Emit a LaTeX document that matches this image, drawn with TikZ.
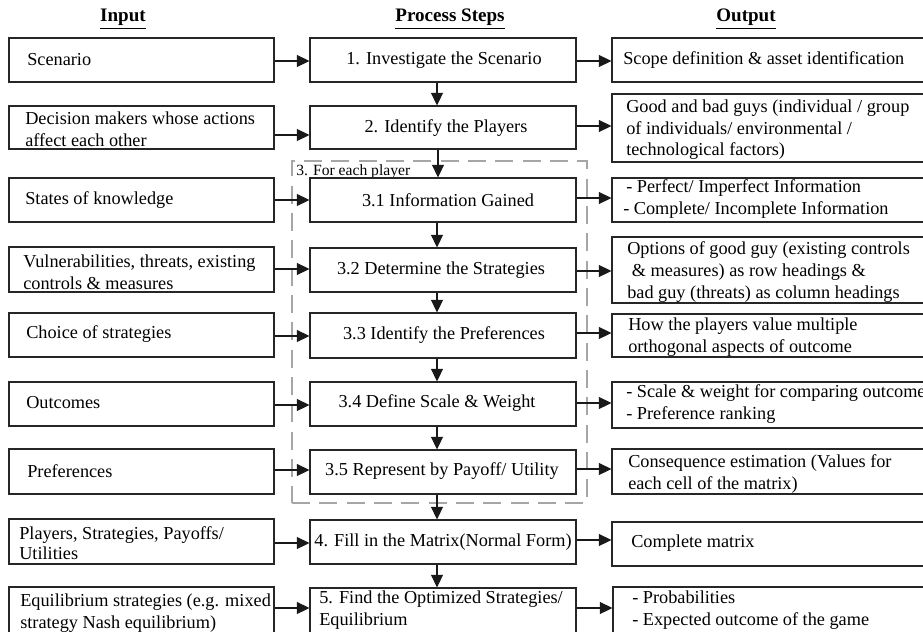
\documentclass[tikz,border=0pt]{standalone}
\usepackage{fontspec}
\setmainfont{Liberation Serif}
\usetikzlibrary{arrows.meta,fit}
\begin{document}
\begin{tikzpicture}[x=0.75pt,y=-0.75pt,
  box/.style={draw=black!85, line width=0.8pt, inner sep=0pt},
  grp/.style={draw=black!35, line width=0.8pt, dash pattern=on 13.5pt off 7pt, inner sep=0pt},
  txt/.style={inner sep=0pt, align=left, anchor=west, font=\fontsize{13.7}{16.2}\selectfont},
  ctxt/.style={inner sep=0pt, align=center, anchor=center, font=\fontsize{13.7}{16.2}\selectfont},
  head/.style={inner sep=0pt, anchor=base, font=\fontsize{14.3}{16}\selectfont\bfseries},
  small/.style={inner sep=0pt, anchor=base west, font=\fontsize{11.7}{13}\selectfont},
  arr/.style={-{Triangle[length=9.5pt,width=9pt]}, line width=0.8pt, draw=black!90}
]
\useasboundingbox (0,0) rectangle (923,631);
\clip (0,0) rectangle (923,631);
\fill[white] (0,0) rectangle (923,631);

% headings
\node[head] (hin) at (123,22) {\underline{Input}};
\node[head] (hpr) at (450,22) {\underline{Process Steps}};
\node[head] (hout) at (746,22) {\underline{Output}};

% dashed group
\node[grp, fit={(292,161)(587,503)}] (G) {};
\node[small] (Gt) at (296,175) {3. For each player};

% left boxes
\node[box, fit={(9,38)(274,82)}] (L1) {};
\node[box, fit={(9,106)(274,149)}] (L2) {};
\node[box, fit={(9,178)(274,222)}] (L3) {};
\node[box, fit={(9,247)(274,292)}] (L4) {};
\node[box, fit={(9,313)(274,357)}] (L5) {};
\node[box, fit={(9,382)(274,426)}] (L6) {};
\node[box, fit={(9,449)(274,494)}] (L7) {};
\node[box, fit={(9,519)(274,564)}] (L8) {};
\node[box, fit={(9,587)(274,660)}] (L9) {};

% middle boxes
\node[box, fit={(310,38)(576,82)}] (M1) {};
\node[box, fit={(310,106)(576,149)}] (M2) {};
\node[box, fit={(310,178)(576,222)}] (M3) {};
\node[box, fit={(310,248)(576,292)}] (M4) {};
\node[box, fit={(310,313)(576,358)}] (M5) {};
\node[box, fit={(310,382)(576,426)}] (M6) {};
\node[box, fit={(310,450)(576,494)}] (M7) {};
\node[box, fit={(310,520)(576,564)}] (M8) {};
\node[box, fit={(310,588)(576,660)}] (M9) {};

% right boxes
\node[box, fit={(612,38)(940,82)}] (R1) {};
\node[box, fit={(612,94)(940,162)}] (R2) {};
\node[box, fit={(612,178)(940,222)}] (R3) {};
\node[box, fit={(612,237)(940,303)}] (R4) {};
\node[box, fit={(612,314)(940,357)}] (R5) {};
\node[box, fit={(612,382)(940,428)}] (R6) {};
\node[box, fit={(612,449)(940,494)}] (R7) {};
\node[box, fit={(612,522)(940,566)}] (R8) {};
\node[box, fit={(613,587)(940,660)}] (R9) {};

% left texts
\node[txt] (L1t) at (27,60) {Scenario};
\node[txt] (L2t) at (25,129) {Decision makers whose actions\\affect each other};
\node[txt] (L3t) at (25,200) {States of knowledge};
\node[txt] (L4t) at (23,272) {Vulnerabilities, threats, existing\\controls \& measures};
\node[txt] (L5t) at (26,334) {Choice of strategies};
\node[txt] (L6t) at (26,403) {Outcomes};
\node[txt] (L7t) at (27,471) {Preferences};
\node[txt, font=\fontsize{13.7}{14.8}\selectfont] (L8t) at (19,543) {Players, Strategies, Payoffs/\\Utilities};
\node[txt] (L9t) at (20,613) {Equilibrium strategies (e.g. mixed\\strategy Nash equilibrium)};

% middle texts
\node[ctxt] (M1t) at (444,60) {1. Investigate the Scenario};
\node[ctxt] (M2t) at (446,128) {2. Identify the Players};
\node[ctxt] (M3t) at (448,200) {3.1 Information Gained};
\node[ctxt] (M4t) at (441,270) {3.2 Determine the Strategies};
\node[ctxt] (M5t) at (444,335) {3.3 Identify the Preferences};
\node[ctxt] (M6t) at (437,403) {3.4 Define Scale \& Weight};
\node[ctxt] (M7t) at (442,471) {3.5 Represent by Payoff/ Utility};
\node[ctxt] (M8t) at (443,542) {4. Fill in the Matrix(Normal Form)};
\node[txt] (M9t) at (319,610) {5. Find the Optimized Strategies/\\Equilibrium};

% right texts
\node[txt] (R1t) at (623,60) {Scope definition \& asset identification};
\node[txt] (R2t) at (626,130) {Good and bad guys (individual / group\\of individuals/ environmental /\\technological factors)};
\node[txt] (R3t) at (623,199) {\hspace*{2.25pt}- Perfect/ Imperfect Information\\- Complete/ Incomplete Information};
\node[txt] (R4t) at (627,272) {Options of good guy (existing controls\\\hspace*{3.5pt}\& measures) as row headings \&\\bad guy (threats) as column headings};
\node[txt] (R5t) at (628,337) {How the players value multiple\\orthogonal aspects of outcome};
\node[txt] (R6t) at (626,404) {- Scale \& weight for comparing outcomes\\- Preference ranking};
\node[txt] (R7t) at (628,474) {Consequence estimation (Values for\\each cell of the matrix)};
\node[txt] (R8t) at (631,543) {Complete matrix};
\node[txt] (R9t) at (632,610) {- Probabilities\\- Expected outcome of the game};

% horizontal arrows left -> middle
\draw[arr] (L1.east |- 0,61) -- (M1.west |- 0,61);
\draw[arr] (L2.east |- 0,135) -- (M2.west |- 0,135);
\draw[arr] (L3.east |- 0,200) -- (M3.west |- 0,200);
\draw[arr] (L4.east |- 0,269) -- (M4.west |- 0,269);
\draw[arr] (L5.east |- 0,336) -- (M5.west |- 0,336);
\draw[arr] (L6.east |- 0,405) -- (M6.west |- 0,405);
\draw[arr] (L7.east |- 0,470) -- (M7.west |- 0,470);
\draw[arr] (L8.east |- 0,543) -- (M8.west |- 0,543);
\draw[arr] (L9.east |- 0,608) -- (M9.west |- 0,608);

% horizontal arrows middle -> right
\draw[arr] (M1.east |- 0,61) -- (R1.west |- 0,61);
\draw[arr] (M2.east |- 0,126) -- (R2.west |- 0,126);
\draw[arr] (M3.east |- 0,198) -- (R3.west |- 0,198);
\draw[arr] (M4.east |- 0,271) -- (R4.west |- 0,271);
\draw[arr] (M5.east |- 0,333) -- (R5.west |- 0,333);
\draw[arr] (M6.east |- 0,403) -- (R6.west |- 0,403);
\draw[arr] (M7.east |- 0,469) -- (R7.west |- 0,469);
\draw[arr] (M8.east |- 0,540) -- (R8.west |- 0,540);
\draw[arr] (M9.east |- 0,608) -- (R9.west |- 0,608);

% vertical arrows
\draw[arr] (M1.south -| 437,0) -- (M2.north -| 437,0);
\draw[arr] (M2.south -| 438,0) -- (M3.north -| 438,0);
\draw[arr] (M3.south -| 437,0) -- (M4.north -| 437,0);
\draw[arr] (M4.south -| 437,0) -- (M5.north -| 437,0);
\draw[arr] (M5.south -| 437,0) -- (M6.north -| 437,0);
\draw[arr] (M6.south -| 437,0) -- (M7.north -| 437,0);
\draw[arr] (M7.south -| 437,0) -- (M8.north -| 437,0);
\draw[arr] (M8.south -| 437,0) -- (M9.north -| 437,0);
\end{tikzpicture}
\end{document}
